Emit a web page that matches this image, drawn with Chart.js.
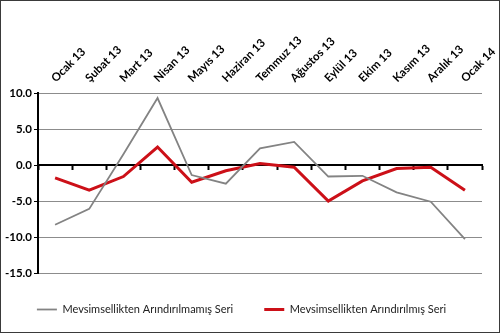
<!DOCTYPE html>
<html>
<head>
<meta charset="utf-8">
<script src="https://cdn.jsdelivr.net/npm/chart.js@4/dist/chart.umd.min.js"></script>
<style>
  body { margin: 0; background: #fff; }
  #frame {
    position: absolute; left: 0; top: 0;
    width: 500px; height: 333px;
    box-sizing: border-box;
    border: 1px solid #3a3a3a;
    background: #fff;
  }
</style>
</head>
<body>
<div id="frame"><canvas id="chart" width="498" height="331"></canvas></div>
<script>
const months = [
  "Ocak 13", "Şubat 13", "Mart 13", "Nisan 13", "Mayıs 13", "Haziran 13",
  "Temmuz 13", "Ağustos 13", "Eylül 13", "Ekim 13", "Kasım 13", "Aralık 13", "Ocak 14"
];
const rawSeries = [-8.3, -6.1, 1.5, 9.3, -1.4, -2.6, 2.3, 3.2, -1.6, -1.5, -3.8, -5.1, -10.3];
const adjustedSeries = [-1.8, -3.5, -1.6, 2.5, -2.4, -0.8, 0.2, -0.3, -5.0, -2.2, -0.5, -0.3, -3.5];
const yTicks = [10, 5, 0, -5, -10, -15];

const labelFont = { family: "Lato", size: 11.5, weight: "bold" };

const chart = new Chart(document.getElementById("chart"), {
  type: "line",
  data: {
    labels: months,
    datasets: [
      {
        label: "Mevsimsellikten Arındırılmamış Seri",
        data: rawSeries,
        borderColor: "#838383",
        backgroundColor: "#838383",
        borderWidth: 1.8,
        pointRadius: 0,
        tension: 0,
        xAxisID: "x",
      },
      {
        label: "Mevsimsellikten Arındırılmış Seri",
        data: adjustedSeries,
        borderColor: "#cc1018",
        backgroundColor: "#cc1018",
        borderWidth: 3,
        pointRadius: 0,
        tension: 0,
        xAxisID: "x",
      },
    ],
  },
  options: {
    responsive: false,
    animation: false,
    layout: { padding: { left: 0, right: 17, top: 0, bottom: 9 } },
    plugins: {
      tooltip: { enabled: false },
      legend: {
        position: "bottom",
        maxHeight: 50,
        labels: {
          usePointStyle: true,
          pointStyle: "line",
          pointStyleWidth: 20,
          padding: 31,
          color: "#222",
          font: { family: "Lato", size: 11 },
        },
      },
    },
    scales: {
      x: {
        type: "category",
        position: "top",
        offset: true,
        grid: { display: false },
        border: { display: false },
        ticks: {
          minRotation: 45,
          maxRotation: 45,
          autoSkip: false,
          padding: 0,
          labelOffset: 8,
          color: "#000",
          font: labelFont,
        },
        afterFit: (scale) => { scale.height = 92; },
      },
      // horizontal axis line crossing at zero, ticks between categories
      xZero: {
        type: "category",
        labels: months,
        position: { y: 0 },
        offset: true,
        grid: { drawOnChartArea: false, offset: true, tickLength: 4, tickColor: "#000", tickWidth: 2 },
        border: { color: "#000", width: 2 },
        ticks: { display: false },
      },
      y: {
        min: -15,
        max: 10,
        afterBuildTicks: (scale) => {
          scale.ticks = yTicks.map((v) => ({ value: v }));
        },
        grid: {
          color: "#8c8c8c",
          lineWidth: 1,
          borderDash: [3, 3],
          tickLength: 4,
          tickColor: "#000",
          tickBorderDash: [],
        },
        border: { color: "#000", width: 2 },
        ticks: {
          color: "#000",
          padding: 2,
          font: labelFont,
          callback: (v) => Number(v).toFixed(1),
        },
        afterFit: (scale) => { scale.width = 37; },
      },
    },
  },
});
</script>
</body>
</html>
